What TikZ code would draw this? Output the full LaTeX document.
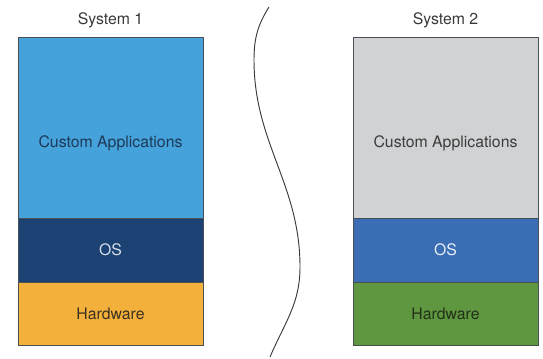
\documentclass[tikz,border=0pt]{standalone}
\usepackage{fontspec}
\setmainfont{TeX Gyre Heros}
\usepackage{tikz}
\usetikzlibrary{positioning}

\definecolor{boxline}{HTML}{4A4E55}
\definecolor{appblue}{HTML}{45A2DA}
\definecolor{appbluetext}{HTML}{1E3A58}
\definecolor{osnavy}{HTML}{1B4272}
\definecolor{osnavytext}{HTML}{D5DEE9}
\definecolor{hworange}{HTML}{F3B13C}
\definecolor{hworangetext}{HTML}{3B3022}
\definecolor{appgray}{HTML}{D1D2D4}
\definecolor{appgraytext}{HTML}{3C3C3C}
\definecolor{osblue}{HTML}{3B6DB5}
\definecolor{osbluetext}{HTML}{E8EEF6}
\definecolor{hwgreen}{HTML}{5E973F}
\definecolor{hwgreentext}{HTML}{22301A}
\definecolor{titlegray}{HTML}{3A3A3A}

\begin{document}
\begin{tikzpicture}[node distance={0mm}, font=\fontsize{13.5}{16}\selectfont,
    layer/.style = {draw=boxline, line width=0.5pt, minimum width=5.55cm, inner sep=0pt, outer sep=0pt},
    title/.style = {text=titlegray}]
            \useasboundingbox (0,0) rectangle (16.29,10.74);

            % System 1
            \node[layer, fill=appblue, minimum height=5.43cm,
                  label={[yshift=-4.8mm, text=appbluetext]center:Custom Applications}] (A1) at (3.315,6.915) {};
            \node[layer, fill=osnavy, text=osnavytext, minimum height=1.92cm] (O1) [below=of A1] {OS};
            \node[layer, fill=hworange, text=hworangetext, minimum height=1.89cm, text depth=-1mm] (H1) [below=of O1] {Hardware};
            \node[title] (S1) [above=1.6mm of A1] {System 1};

            % System 2
            \node[layer, fill=appgray, minimum height=5.43cm,
                  label={[yshift=-4.8mm, text=appgraytext]center:Custom Applications}] (A2) at (13.365,6.915) {};
            \node[layer, fill=osblue, text=osbluetext, minimum height=1.92cm] (O2) [below=of A2] {OS};
            \node[layer, fill=hwgreen, text=hwgreentext, minimum height=1.89cm, text depth=-1mm] (H2) [below=of O2] {Hardware};
            \node[title] (S2) [above=1.6mm of A2] {System 2};

            % divider
            \draw[titlegray, line width=0.8pt] (8.07,10.53) to[out=238,in=90] (7.62,8.94)
                to[out=-90,in=90] (9.0,2.73) to[out=-90,in=67] (8.1,0.03);
        \end{tikzpicture}
\end{document}
